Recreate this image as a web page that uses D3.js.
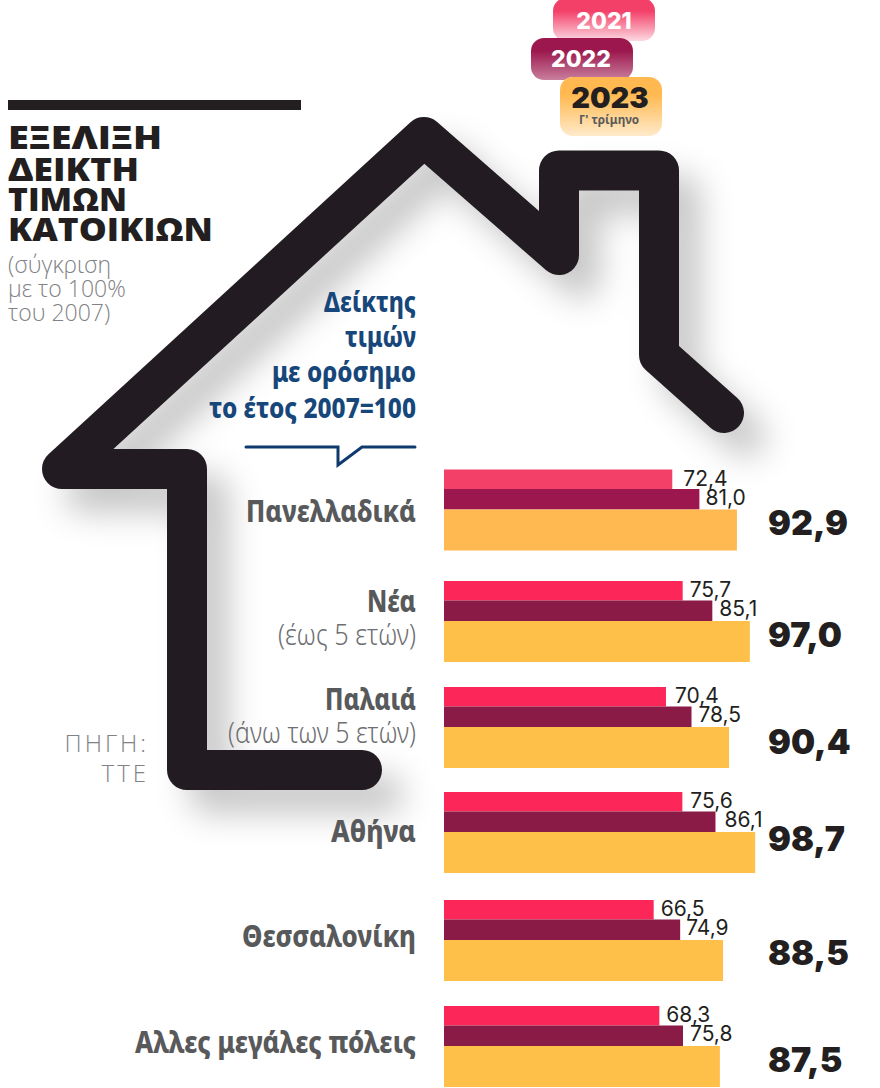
<!DOCTYPE html>
<html>
<head>
<meta charset="utf-8">
<script src="https://cdn.jsdelivr.net/npm/d3@7"></script>
<style>
  html, body { margin: 0; padding: 0; background: #fff; }
  svg { display: block; }
  text { font-kerning: normal; }
</style>
</head>
<body>
<div id="chart"></div>
<script>
// the values
const categories = ["Πανελλαδικά", "Νέα", "Παλαιά", "Αθήνα", "Θεσσαλονίκη", "Αλλες μεγάλες πόλεις"]
const subLabels = ["", "(έως 5 ετών)", "(άνω των 5 ετών)", "", "", ""]
const years = ["2021", "2022", "2023"]
const values2021 = [72.4, 75.7, 70.4, 75.6, 66.5, 68.3]
const values2022 = [81.0, 85.1, 78.5, 86.1, 74.9, 75.8]
const values2023 = [92.9, 97.0, 90.4, 98.7, 88.5, 87.5]

const titleLines = ["ΕΞΕΛΙΞΗ", "ΔΕΙΚΤΗ", "ΤΙΜΩΝ", "ΚΑΤΟΙΚΙΩΝ"]
const noteLines = ["(σύγκριση", "με το 100%", "του 2007)"]
const indexLines = ["Δείκτης", "τιμών", "με ορόσημο", "το έτος 2007=100"]
const sourceLines = ["ΠΗΓΗ:", "ΤΤΕ"]

const width = 880
const height = 1088

const svg = d3.select("#chart").append("svg")
  .attr("width", width)
  .attr("height", height)
  .attr("viewBox", [0, 0, width, height])

const defs = svg.append("defs")

// soft shadow under the house
const shadow = defs.append("filter").attr("id", "shadow")
  .attr("filterUnits", "userSpaceOnUse")
  .attr("x", 0).attr("y", 60).attr("width", width).attr("height", 800)
shadow.append("feDropShadow")
  .attr("dx", 22).attr("dy", 24).attr("stdDeviation", 16)
  .attr("flood-color", "#000").attr("flood-opacity", 0.22)

const x = d3.scaleLinear().domain([0, 100]).range([444, 759.3])
const rowTop = d3.scaleOrdinal().domain(categories).range([469.5, 581, 687, 792, 900, 1006])

// the outline of the house
const housePoints = [[362, 770], [187, 770], [187, 469], [62, 469], [424, 137], [559, 255], [559, 170.5], [659, 170.5], [659, 355], [724, 413]]
svg.append("path")
  .attr("d", d3.line()(housePoints))
  .attr("fill", "none")
  .attr("stroke", "#231f20")
  .attr("stroke-width", 40)
  .attr("stroke-linecap", "round")
  .attr("stroke-linejoin", "round")
  .attr("filter", "url(#shadow)")

// rule and title, top left
svg.append("rect").attr("x", 8).attr("y", 100).attr("width", 293).attr("height", 10).attr("fill", "#231f20")

const titleY = [149, 181, 211, 241]
const titleW = [154, 131, 119, 205]
svg.append("g").selectAll("text").data(titleLines).join("text")
  .attr("x", 8)
  .attr("y", (d, i) => titleY[i])
  .attr("textLength", (d, i) => titleW[i])
  .attr("lengthAdjust", "spacingAndGlyphs")
  .style("font", "800 32px 'Open Sans'")
  .attr("fill", "#231f20")
  .text(d => d)

const noteY = [273, 297, 321]
svg.append("g").selectAll("text").data(noteLines).join("text")
  .attr("x", 8)
  .attr("y", (d, i) => noteY[i])
  .style("font", "300 23px 'Open Sans'")
  .attr("fill", "#808285")
  .text(d => d)

// blue note inside the house, squeezed to the condensed look of the original
const indexY = [312, 347, 382, 418]
const indexW = [92, 71, 144, 207]
svg.append("g").selectAll("text").data(indexLines).join("text")
  .attr("x", 416)
  .attr("y", (d, i) => indexY[i])
  .attr("text-anchor", "end")
  .attr("textLength", (d, i) => indexW[i])
  .attr("lengthAdjust", "spacingAndGlyphs")
  .style("font", "800 28px 'Noto Sans'")
  .attr("fill", "#17477a")
  .text(d => d)

const calloutPoints = [[246, 447], [338, 447], [338, 465], [362, 447], [415, 447]]
svg.append("path")
  .attr("d", d3.line()(calloutPoints))
  .attr("fill", "none")
  .attr("stroke", "#0f3a6e")
  .attr("stroke-width", 3)
  .attr("stroke-linecap", "round")

const sourceY = [752, 782]
svg.append("g").selectAll("text").data(sourceLines).join("text")
  .attr("x", 149)
  .attr("y", (d, i) => sourceY[i])
  .attr("text-anchor", "end")
  .attr("letter-spacing", 3)
  .style("font", "300 24px 'Open Sans'")
  .attr("fill", "#808285")
  .text(d => d)

// legend: three pills fading to white at the bottom
const pillColor = ["#f34069", "#9c174d", "#ffb950"]
const pillFade = [0.2, 0.55, 0.3]
const pillX = [553, 531, 560]
const pillY = [-2, 38, 77]
const pillH = [43, 42, 59]
years.forEach((year, i) => {
  const grad = defs.append("linearGradient").attr("id", "pill" + i).attr("x1", 0).attr("x2", 0).attr("y1", 0).attr("y2", 1)
  grad.append("stop").attr("offset", 0.3).attr("stop-color", pillColor[i])
  grad.append("stop").attr("offset", 1).attr("stop-color", pillColor[i]).attr("stop-opacity", pillFade[i])
  svg.append("rect")
    .attr("x", pillX[i]).attr("y", pillY[i])
    .attr("width", 102).attr("height", pillH[i])
    .attr("rx", 13)
    .attr("fill", "#fff")
  svg.append("rect")
    .attr("x", pillX[i]).attr("y", pillY[i])
    .attr("width", 102).attr("height", pillH[i])
    .attr("rx", 13)
    .attr("fill", `url(#pill${i})`)
})
const legendX = [604, 581, 610]
const legendY = [29, 67, 108]
svg.append("g").selectAll("text").data(years).join("text")
  .attr("x", (d, i) => legendX[i])
  .attr("y", (d, i) => legendY[i])
  .attr("text-anchor", "middle")
  .style("font", (d, i) => i == 2 ? "900 29px Inter" : "800 23px Inter")
  .attr("fill", (d, i) => i == 2 ? "#231f20" : "#fff")
  .text(d => d)
svg.append("text")
  .attr("x", 579).attr("y", 124)
  .attr("textLength", 60)
  .attr("lengthAdjust", "spacingAndGlyphs")
  .style("font", "700 13px 'Noto Sans'")
  .attr("fill", "#58595b")
  .text("Γ' τρίμηνο")

// bars: first row is a little paler than the others
const rows = categories.map((name, i) => ({ name, i, sub: subLabels[i], v: [values2021[i], values2022[i], values2023[i]] }))
const barOffset = [0, 19.5, 40]
const barHeight = [19.5, 20.5, 41]
const barColor = ["#fd2659", "#8a1b47", "#fec049"]
const firstRowColor = pillColor

const row = svg.append("g").selectAll("g").data(rows).join("g")
  .attr("transform", d => `translate(0,${rowTop(d.name)})`)

row.selectAll("rect").data(d => d.v.map((v, s) => ({ v, s, first: d.i == 0 }))).join("rect")
  .attr("x", x(0))
  .attr("y", d => barOffset[d.s])
  .attr("width", d => x(d.v) - x(0))
  .attr("height", d => barHeight[d.s])
  .attr("fill", d => d.first ? firstRowColor[d.s] : barColor[d.s])

const fmt = v => v.toFixed(1).replace(".", ",")

// small labels for 2021 and 2022
const labelY = [16, 35]
const labelGap = [[11, 6], [7, 7], [9, 7], [8, 9], [7, 6], [7, 7]]
row.selectAll("text.small").data(d => d.v.slice(0, 2).map((v, s) => ({ v, s, i: d.i }))).join("text")
  .attr("class", "small")
  .attr("x", d => x(d.v) + labelGap[d.i][d.s])
  .attr("y", d => labelY[d.s])
  .style("font", "400 21px Inter")
  .attr("fill", "#231f20")
  .text(d => fmt(d.v))

// big 2023 value
const bigY = [65.5, 66, 67, 59, 65, 66]
row.append("text")
  .attr("x", 768)
  .attr("y", d => bigY[d.i])
  .style("font", "900 34px Inter")
  .attr("fill", "#231f20")
  .text(d => fmt(d.v[2]))

// category labels
const nameY = [522, 612, 710, 842, 947, 1053]
const nameW = [170, 49, 91, 85, 174, 281]
svg.append("g").selectAll("text").data(categories).join("text")
  .attr("x", 416)
  .attr("y", (d, i) => nameY[i])
  .attr("text-anchor", "end")
  .attr("textLength", (d, i) => nameW[i])
  .attr("lengthAdjust", "spacingAndGlyphs")
  .style("font", "800 31px 'Noto Sans'")
  .attr("fill", "#58595b")
  .text(d => d)

const subRows = subLabels.filter(d => d)
const subY = [645, 743]
const subW = [138, 188]
svg.append("g").selectAll("text").data(subRows).join("text")
  .attr("x", 416)
  .attr("y", (d, i) => subY[i])
  .attr("text-anchor", "end")
  .attr("textLength", (d, i) => subW[i])
  .attr("lengthAdjust", "spacingAndGlyphs")
  .style("font", "300 29px 'Noto Sans'")
  .attr("fill", "#6d6e71")
  .text(d => d)
</script>
</body>
</html>
